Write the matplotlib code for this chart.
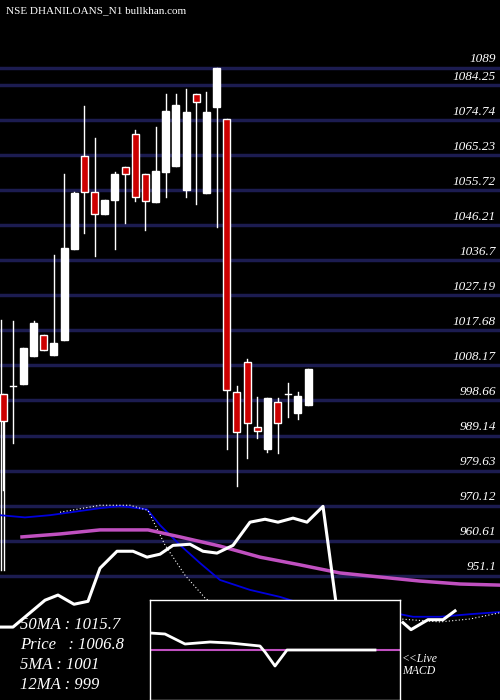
import matplotlib
matplotlib.use("Agg")
import matplotlib.pyplot as plt
import numpy as np

# candle data (open, high, low, close)
opens = [1000.4, 1002.5, 1003.2, 1010.8, 1016.4, 1011.1, 1015.2, 1039.9, 1065.0, 1055.2,
         1049.4, 1053.0, 1062.0, 1071.0, 1060.1, 1052.7, 1060.8, 1062.5, 1055.9, 1081.9,
         1055.1, 1078.5, 1075.1, 1000.9, 1009.0, 991.4, 985.6, 998.2, 1000.3, 995.3, 997.5]
highs = [1000.4, 1020.3, 1012.9, 1020.3, 1016.4, 1038.2, 1060.2, 1055.4, 1078.7, 1070.0,
         1053.1, 1060.8, 1062.0, 1072.2, 1060.1, 1073.0, 1081.9, 1081.9, 1083.3, 1081.9,
         1082.5, 1089.0, 1075.1, 1002.5, 1010.0, 999.6, 999.3, 999.3, 1003.4, 1000.9, 1007.2]
lows = [974.3, 987.2, 1003.2, 1010.8, 1012.3, 1011.1, 1015.2, 1039.9, 1044.3, 1038.0,
        1049.4, 1039.9, 1047.0, 1052.8, 1045.1, 1052.7, 1054.0, 1062.5, 1054.0, 1052.1,
        1055.1, 1045.9, 985.6, 975.5, 983.1, 988.6, 984.8, 984.5, 994.3, 993.6, 997.5]
closes = [993.1, 1002.5, 1012.9, 1019.7, 1012.3, 1014.3, 1040.1, 1055.0, 1055.2, 1049.4,
          1053.1, 1060.2, 1060.1, 1053.9, 1052.8, 1061.0, 1077.3, 1079.0, 1077.0, 1079.7,
          1077.0, 1089.0, 1001.4, 990.2, 992.5, 990.3, 999.3, 992.5, 1000.3, 999.8, 1007.2]

grid_levels = [1089, 1084.25, 1074.74, 1065.23, 1055.72, 1046.21, 1036.7, 1027.19,
               1017.68, 1008.17, 998.66, 989.14, 979.63, 970.12, 960.61, 951.1]

# moving average style lines (x in chart pixels, price values)
white_x = [0, 13, 45, 58, 74, 88, 100, 117, 133, 147, 160, 173, 190, 203, 217, 233, 250, 265,
           278, 293, 307, 323, 337]
white_y = [937.1, 937.1, 944.4, 945.8, 943.3, 944.1, 953.1, 957.7, 957.7, 956.1, 956.9, 959.3,
           959.6, 957.7, 957.2, 959.3, 965.6, 966.4, 965.6, 966.7, 965.6, 969.9, 941.7]
white2_x = [403, 411, 428, 443, 455]
white2_y = [938.3, 936.4, 939.1, 939.1, 941.5]
blue_x = [0, 25, 50, 100, 120, 147, 160, 180, 200, 220, 250, 280, 300, 400, 413, 440, 470, 500]
blue_y = [967.5, 966.9, 967.5, 969.4, 970.0, 969.1, 964.8, 959.4, 954.5, 949.9, 947.2, 945.3,
          943.6, 940.6, 939.9, 939.9, 940.6, 941.2]
dot_x = [60, 100, 130, 148, 165, 185, 205, 225, 400, 440, 470, 500]
dot_y = [968.3, 970.2, 970.2, 968.8, 959.4, 951.2, 945.0, 941.0, 939.3, 938.5, 939.3, 941.0]
mag_x = [22, 60, 100, 148, 180, 220, 260, 300, 340, 380, 420, 460, 500]
mag_y = [961.6, 962.4, 963.5, 963.5, 961.6, 959.1, 956.1, 954.0, 951.8, 950.7, 949.6, 948.8, 948.5]

# MACD inset (pixel coordinates inside the box)
macd_x = [150, 165, 185, 210, 230, 260, 265, 275, 287, 375]
macd_y = [633, 634, 644, 642, 643, 646, 652, 666, 650, 650]
signal_level = 650

info = ["50MA : 1015.7", "Price   : 1006.8", "5MA : 1001", "12MA : 999"]

SERIF = ["Liberation Serif", "DejaVu Serif"]
PX = 0.2717  # price per pixel
top_px, top_price = 68, 1089
y_hi = top_price + top_px * PX
y_lo = top_price - (700 - top_px) * PX

fig = plt.figure(figsize=(5, 7), dpi=100, facecolor="black")
ax = fig.add_axes([0, 0, 1, 1], facecolor="black")
ax.set_xlim(0, 500)
ax.set_ylim(y_lo, y_hi)
ax.axis("off")

for g in grid_levels:
    ax.axhline(g, color="#1c1c50", lw=2.5, zorder=1)
    ax.text(496, g + 0.8, f"{g:g}", color="white", fontsize=9.5, family=SERIF,
            style="italic", ha="right", va="bottom", zorder=5)

# left edge marker lines
ax.plot([1, 1], [top_price - (570 - top_px) * PX, top_price - (320 - top_px) * PX],
        color="white", lw=1, zorder=2)
ax.plot([3.5, 3.5], [top_price - (570 - top_px) * PX, top_price - (420 - top_px) * PX],
        color="white", lw=1, zorder=2)

ax.plot(blue_x, blue_y, color="#0000dd", lw=1.3, zorder=3)
ax.plot(dot_x, dot_y, color="white", lw=0.8, ls=(0, (1, 2)), zorder=3)
ax.plot(mag_x, mag_y, color="#c050c0", lw=2.5, zorder=3)
ax.plot(white_x, white_y, color="white", lw=2.2, zorder=3)
ax.plot(white2_x, white2_y, color="white", lw=2.2, zorder=3)

step = 10.17
w = 7
for i, (o, h, l, c) in enumerate(zip(opens, highs, lows, closes)):
    x = 3 + i * step
    ax.plot([x, x], [l, h], color="white", lw=1, zorder=4)
    if abs(o - c) < 0.3:
        ax.plot([x - 3, x + 3], [o, o], color="white", lw=1, zorder=4)
        continue
    fc = "white" if c > o else "#cc0000"
    ax.add_patch(plt.Rectangle((x - w / 2, min(o, c)), w, abs(c - o), facecolor=fc,
                               edgecolor="white", lw=1, zorder=4))

fig.text(6 / 500, 1 - 6 / 700, "NSE DHANILOANS_N1 bullkhan.com", color="white", fontsize=8,
         family=SERIF, ha="left", va="top")

for k, s in enumerate(info):
    fig.text(20 / 500, 1 - (625 + k * 20) / 700, s, color="white", fontsize=12,
             family=SERIF, style="italic", va="center")
fig.text(402 / 500, 1 - 665 / 700, "<<Live\nMACD", color="white", fontsize=8.5,
         family=SERIF, style="italic", va="center", linespacing=1.1)

# MACD inset box
bx = fig.add_axes([150 / 500, 0, 250 / 500, 100 / 700], facecolor="black")
bx.set_xlim(150, 400)
bx.set_ylim(700, 600)
bx.set_xticks([])
bx.set_yticks([])
for sp in bx.spines.values():
    sp.set_color("white")
    sp.set_linewidth(1)
bx.axhline(signal_level, color="#c050c0", lw=1.5)
bx.plot(macd_x, macd_y, color="white", lw=2)

fig.savefig("out.png", dpi=100, facecolor="black")
